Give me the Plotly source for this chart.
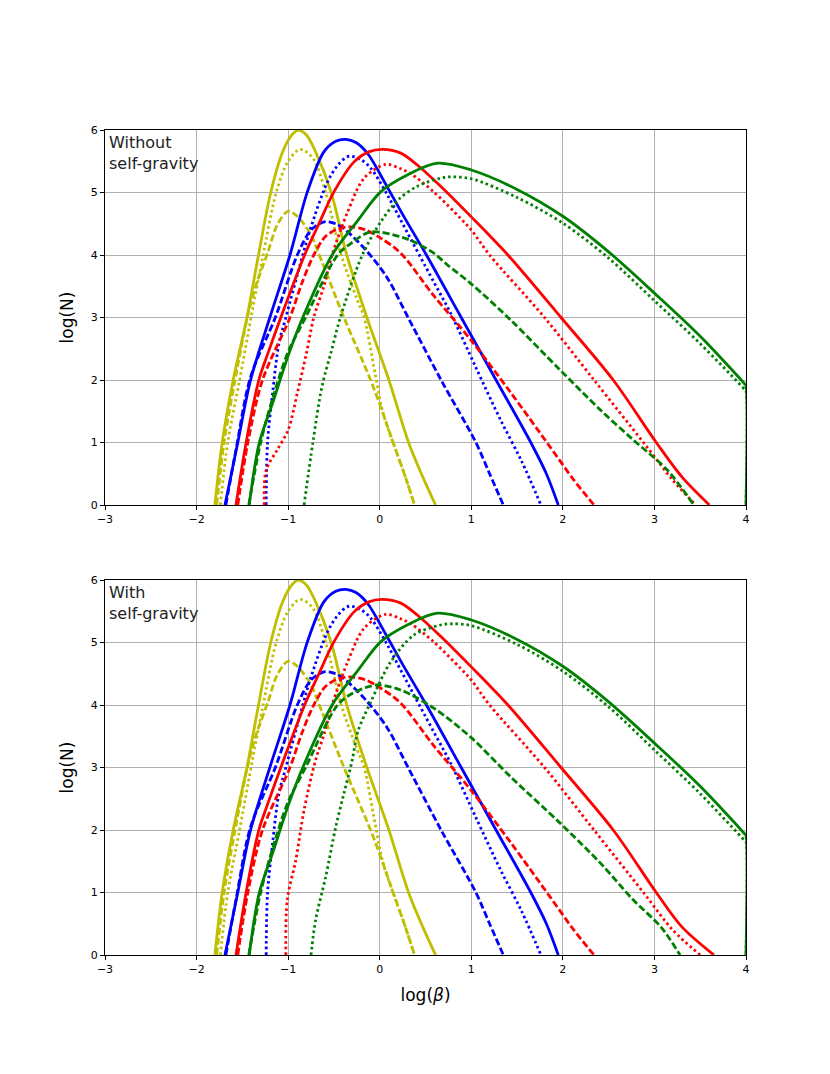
import plotly.graph_objects as go

# log(beta) / log(N) curves
# --- top panel: without self-gravity ---
yel_solid_x = [-1.80, -1.72, -1.60, -1.45, -1.33, -1.19, -1.06, -0.96, -0.89, -0.80, -0.70, -0.53, -0.36, -0.14, 0.10, 0.315, 0.47, 0.61]
yel_solid_y = [0.0, 1.0, 2.0, 3.0, 3.95, 5.0, 5.65, 5.92, 6.0, 5.92, 5.65, 5.0, 4.0, 3.0, 2.0, 1.0, 0.45, 0.0]
yel_dot_x = [-1.74, -1.66, -1.53, -1.39, -1.28, -1.13, -1.0, -0.87, -0.73, -0.59, -0.42, -0.25, -0.17, -0.05, 0.04, 0.17, 0.28, 0.38]
yel_dot_y = [0.0, 1.0, 2.0, 3.12, 3.95, 5.0, 5.5, 5.69, 5.55, 5.0, 4.0, 3.3, 3.0, 2.1, 1.45, 0.9, 0.45, 0.0]
yel_dash_x = [-1.78, -1.70, -1.58, -1.44, -1.35, -1.22, -1.12, -1.0, -0.90, -0.75, -0.66, -0.39, -0.10, 0.04, 0.17, 0.28, 0.38]
yel_dash_y = [0.0, 1.0, 2.0, 3.04, 3.52, 4.05, 4.48, 4.70, 4.62, 4.32, 4.0, 3.0, 2.0, 1.45, 0.9, 0.45, 0.0]

blu_solid_x = [-1.69, -1.55, -1.41, -1.20, -0.98, -0.79, -0.61, -0.48, -0.37, -0.26, -0.13, 0.07, 0.25, 0.51, 0.89, 1.27, 1.65, 1.82, 1.95]
blu_solid_y = [0.0, 1.0, 2.0, 3.0, 4.0, 5.01, 5.65, 5.82, 5.85, 5.8, 5.62, 5.12, 4.65, 4.0, 3.0, 2.0, 1.0, 0.5, 0.0]
blu_dot_x = [-1.24, -1.225, -1.17, -1.10, -1.025, -0.84, -0.75, -0.57, -0.45, -0.335, -0.20, -0.098, 0.084, 0.25, 0.59, 0.774, 1.05, 1.32, 1.55, 1.76]
blu_dot_y = [0.0, 0.99, 1.79, 2.59, 3.0, 4.0, 4.45, 5.17, 5.45, 5.58, 5.52, 5.39, 4.96, 4.5, 3.57, 3.07, 2.2, 1.36, 0.7, 0.0]
blu_dash_x = [-1.68, -1.57, -1.41, -1.14, -0.90, -0.75, -0.607, -0.48, -0.35, -0.134, 0.084, 0.31, 0.67, 1.05, 1.2, 1.35]
blu_dash_y = [0.0, 0.88, 2.05, 3.0, 4.0, 4.4, 4.53, 4.5, 4.37, 4.05, 3.63, 3.0, 2.0, 1.0, 0.5, 0.0]

red_solid_x = [-1.57, -1.46, -1.32, -1.22, -1.08, -0.82, -0.67, -0.50, -0.28, -0.12, 0.03, 0.23, 0.41, 0.665, 1.0, 1.40, 1.98, 2.55, 3.02, 3.3, 3.6]
red_solid_y = [0.0, 0.99, 2.0, 2.43, 3.0, 4.0, 4.48, 5.01, 5.49, 5.65, 5.69, 5.63, 5.44, 5.1, 4.61, 4.0, 3.0, 2.0, 1.0, 0.45, 0.0]
red_dot_x = [-1.26, -1.24, -1.12, -1.0, -0.90, -0.80, -0.72, -0.61, -0.52, -0.35, -0.17, 0.065, 0.229, 0.34, 0.59, 0.88, 1.0, 1.2, 1.8, 2.34, 2.88, 3.2, 3.45]
red_dot_y = [0.0, 0.56, 0.88, 1.2, 1.79, 2.43, 3.0, 3.5, 4.0, 4.69, 5.23, 5.45, 5.38, 5.3, 5.01, 4.59, 4.4, 4.0, 3.0, 2.0, 1.0, 0.4, 0.0]
red_dash_x = [-1.55, -1.44, -1.28, -0.98, -0.85, -0.72, -0.59, -0.45, -0.32, -0.15, 0.01, 0.229, 0.59, 0.99, 1.43, 1.86, 2.12, 2.34]
red_dash_y = [0.0, 1.0, 2.0, 3.0, 3.55, 4.0, 4.3, 4.42, 4.45, 4.4, 4.27, 4.03, 3.35, 2.65, 1.8, 0.93, 0.4, 0.0]

grn_solid_x = [-1.425, -1.316, -1.17, -0.99, -0.84, -0.52, -0.24, 0.01, 0.30, 0.63, 1.0, 1.5, 2.0, 2.5, 3.0, 3.5, 3.99, 4.0, 4.0]
grn_solid_y = [0.0, 0.99, 1.63, 2.43, 3.0, 4.0, 4.55, 5.01, 5.28, 5.47, 5.36, 5.05, 4.62, 4.05, 3.39, 2.7, 1.93, 1.91, 0.0]
grn_dot_x = [-0.826, -0.73, -0.63, -0.53, -0.43, -0.19, 0.02, 0.20, 0.41, 0.665, 0.77, 1.0, 1.5, 2.0, 2.5, 3.0, 3.5, 3.99, 4.0, 4.0]
grn_dot_y = [0.0, 1.0, 1.9, 2.45, 3.0, 4.0, 4.55, 4.88, 5.1, 5.23, 5.25, 5.22, 4.92, 4.51, 3.95, 3.27, 2.58, 1.84, 1.82, 0.0]
grn_dash_x = [-1.43, -1.30, -1.15, -1.0, -0.81, -0.46, -0.30, -0.1, 0.229, 0.374, 0.59, 0.74, 0.99, 1.43, 1.97, 2.41, 2.77, 3.14, 3.43]
grn_dash_y = [0.0, 1.0, 1.8, 2.45, 3.0, 4.0, 4.2, 4.37, 4.29, 4.21, 4.03, 3.84, 3.55, 2.96, 2.16, 1.52, 1.04, 0.56, 0.0]

# --- bottom panel: with self-gravity (only the curves that differ) ---
red_dot_sg_x = [-1.025, -1.01, -0.916, -0.826, -0.70, -0.61, -0.52, -0.35, -0.17, 0.065, 0.229, 0.34, 0.59, 0.88, 1.0, 1.2, 1.8, 2.34, 2.88, 3.2, 3.5]
red_dot_sg_y = [0.0, 0.88, 1.52, 2.32, 3.12, 3.52, 4.0, 4.69, 5.23, 5.45, 5.38, 5.3, 5.01, 4.59, 4.4, 4.0, 3.0, 2.0, 1.0, 0.4, 0.0]
red_solid_sg_x = red_solid_x[:-1] + [3.65]
red_solid_sg_y = red_solid_y
grn_dot_sg_x = [-0.75, -0.70, -0.59, -0.48, -0.39, -0.30, -0.24, -0.098, 0.12, 0.374, 0.665, 0.80, 1.0, 1.5, 2.0, 2.5, 3.0, 3.5, 3.99, 4.0, 4.0]
grn_dot_sg_y = [0.0, 0.56, 1.25, 2.05, 2.59, 3.12, 3.57, 4.05, 4.69, 5.12, 5.28, 5.3, 5.27, 4.97, 4.54, 3.97, 3.28, 2.58, 1.82, 1.8, 0.0]
grn_dash_sg_x = [-1.43, -1.30, -1.15, -1.0, -0.81, -0.46, -0.28, -0.03, 0.229, 0.59, 0.99, 1.43, 1.97, 2.41, 2.77, 3.07, 3.28]
grn_dash_sg_y = [0.0, 1.0, 1.8, 2.45, 3.0, 4.0, 4.2, 4.32, 4.24, 3.95, 3.49, 2.85, 2.11, 1.47, 0.88, 0.45, 0.0]

YEL, BLU, RED, GRN = "#bfbf00", "#0000ff", "#ff0000", "#008000"
DOT, DASH = "2.5px,3px", "7px,3px"

top_curves = [
    (yel_solid_x, yel_solid_y, YEL, "solid"), (yel_dot_x, yel_dot_y, YEL, DOT), (yel_dash_x, yel_dash_y, YEL, DASH),
    (blu_solid_x, blu_solid_y, BLU, "solid"), (blu_dot_x, blu_dot_y, BLU, DOT), (blu_dash_x, blu_dash_y, BLU, DASH),
    (red_solid_x, red_solid_y, RED, "solid"), (red_dot_x, red_dot_y, RED, DOT), (red_dash_x, red_dash_y, RED, DASH),
    (grn_solid_x, grn_solid_y, GRN, "solid"), (grn_dot_x, grn_dot_y, GRN, DOT), (grn_dash_x, grn_dash_y, GRN, DASH),
]
bot_curves = [
    (yel_solid_x, yel_solid_y, YEL, "solid"), (yel_dot_x, yel_dot_y, YEL, DOT), (yel_dash_x, yel_dash_y, YEL, DASH),
    (blu_solid_x, blu_solid_y, BLU, "solid"), (blu_dot_x, blu_dot_y, BLU, DOT), (blu_dash_x, blu_dash_y, BLU, DASH),
    (red_solid_sg_x, red_solid_sg_y, RED, "solid"), (red_dot_sg_x, red_dot_sg_y, RED, DOT), (red_dash_x, red_dash_y, RED, DASH),
    (grn_solid_x, grn_solid_y, GRN, "solid"), (grn_dot_sg_x, grn_dot_sg_y, GRN, DOT), (grn_dash_sg_x, grn_dash_sg_y, GRN, DASH),
]

fig = go.Figure()
for curves, xa, ya in [(top_curves, "x", "y"), (bot_curves, "x2", "y2")]:
    for cx, cy, col, dash in curves:
        fig.add_trace(go.Scatter(x=cx, y=cy, mode="lines", xaxis=xa, yaxis=ya,
                                 line=dict(color=col, width=2.8, dash=dash, shape="spline", smoothing=0.9),
                                 showlegend=False, hoverinfo="skip"))

# page body adds an 8px offset, so pixel boxes below are shifted by -8
W, H = 830, 1074
font = "DejaVu Sans"
ax = dict(showline=True, linecolor="black", linewidth=1, mirror=True, ticks="outside", ticklen=4,
          tickcolor="black", showgrid=True, gridcolor="#b0b0b0", gridwidth=1, zeroline=False,
          tickfont=dict(family=font, size=11, color="black"), dtick=1, automargin=False)
title_font = dict(family=font, size=17, color="black")
xdom = [97 / W, 738 / W]
fig.update_layout(
    template="none",
    width=W, height=H, margin=dict(l=0, r=0, t=0, b=0, autoexpand=False),
    paper_bgcolor="white", plot_bgcolor="white",
    xaxis=dict(ax, domain=xdom, range=[-3, 4], anchor="y"),
    yaxis=dict(ax, domain=[1 - 497 / H, 1 - 122 / H], range=[0, 6], anchor="x",
               title=dict(text="log(N)", font=title_font, standoff=12)),
    xaxis2=dict(ax, domain=xdom, range=[-3, 4], anchor="y2",
                title=dict(text="log(<i>β</i>)", font=title_font, standoff=13)),
    yaxis2=dict(ax, domain=[1 - 947 / H, 1 - 572 / H], range=[0, 6], anchor="x2",
                title=dict(text="log(N)", font=title_font, standoff=12)),
    annotations=[
        dict(text="Without<br>self-gravity", xref="x domain", yref="y domain", x=0.0, y=1.0,
             xanchor="left", yanchor="top", showarrow=False, align="left", xshift=2, yshift=-1,
             font=dict(family=font, size=16, color="#222222")),
        dict(text="With<br>self-gravity", xref="x2 domain", yref="y2 domain", x=0.0, y=1.0,
             xanchor="left", yanchor="top", showarrow=False, align="left", xshift=2, yshift=-1,
             font=dict(family=font, size=16, color="#222222")),
    ],
)

fig.write_html("out.html")
